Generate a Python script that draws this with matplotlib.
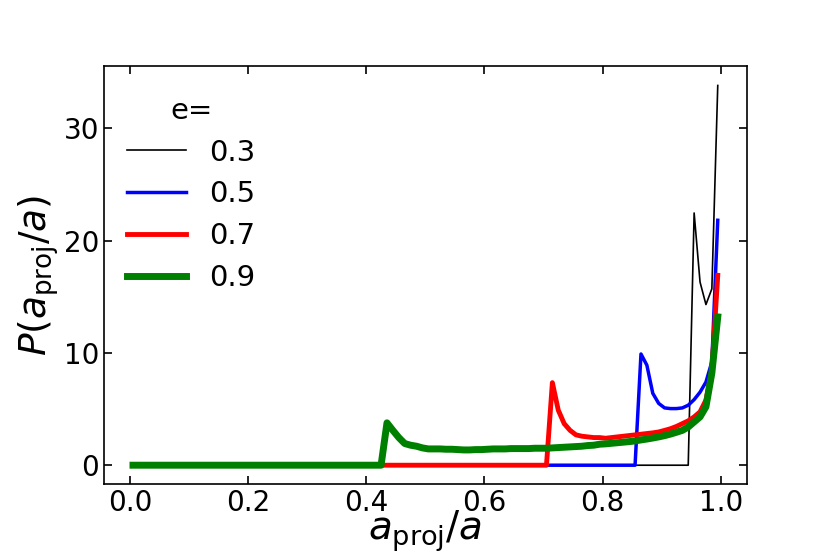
import numpy as np
import matplotlib
matplotlib.use('Agg')
import matplotlib.pyplot as plt

# bin centres of a_proj/a
x = np.arange(0.005, 1.0, 0.01)

# e = 0.3
p03 = [0.0] * 95 + [22.45, 16.3, 14.3, 15.7, 33.8]

# e = 0.5
p05 = [0.0] * 86 + [9.9, 8.9, 6.4, 5.5, 5.1, 5.04, 5.04, 5.1, 5.34, 5.84,
                    6.5, 7.4, 9.2, 21.8]

# e = 0.7
p07 = [0.0] * 71 + [7.35, 4.9, 3.7, 3.1, 2.7, 2.58, 2.52, 2.46, 2.46, 2.4,
                    2.46, 2.52, 2.58, 2.64, 2.7, 2.76, 2.82, 2.88, 2.96, 3.1,
                    3.25, 3.45, 3.7, 3.95, 4.3, 4.75, 5.8, 8.45, 16.9]

# e = 0.9
p09 = [0.0] * 43 + [3.77, 3.1, 2.46, 1.93, 1.78, 1.69, 1.54, 1.45, 1.45, 1.45,
                    1.42, 1.42, 1.39, 1.36, 1.36, 1.39, 1.39, 1.42, 1.45, 1.45,
                    1.45, 1.48, 1.48, 1.48, 1.48, 1.51, 1.51, 1.51, 1.54, 1.57,
                    1.6, 1.63, 1.66, 1.69, 1.75, 1.78, 1.87, 1.9, 1.95,
                    2.0, 2.05, 2.1, 2.16, 2.25, 2.33, 2.42, 2.52, 2.63, 2.77,
                    2.93, 3.1, 3.4, 3.85, 4.3, 5.2, 8.2, 13.2]

series = [('0.3', p03, 'k', 1.2),
          ('0.5', p05, 'b', 2.5),
          ('0.7', p07, 'r', 3.5),
          ('0.9', p09, 'g', 5.0)]

fig = plt.figure(figsize=(8.3, 5.54), dpi=100)
ax = fig.add_subplot(111)
plt.subplots_adjust(left=0.125, right=0.9, top=0.88, bottom=0.126)

for lab, y, col, lw in series:
    ax.plot(x, y, color=col, linewidth=lw, label=lab)

ax.tick_params(direction='in', top=True, right=True, labelsize=20, length=6, width=1.2)
for sp in ax.spines.values():
    sp.set_linewidth(1.2)
ax.set_xlabel(r'$a_{\rm proj}/a$', fontsize=28, labelpad=-6)
ax.set_ylabel(r'$P(a_{\rm proj}/a)$', fontsize=27, labelpad=2)

ax.legend(title='e=', frameon=False, fontsize=21, title_fontsize=21,
          labelspacing=0.47, loc='upper left', bbox_to_anchor=(-0.004, 0.99))

fig.savefig('out.png', dpi=100)
